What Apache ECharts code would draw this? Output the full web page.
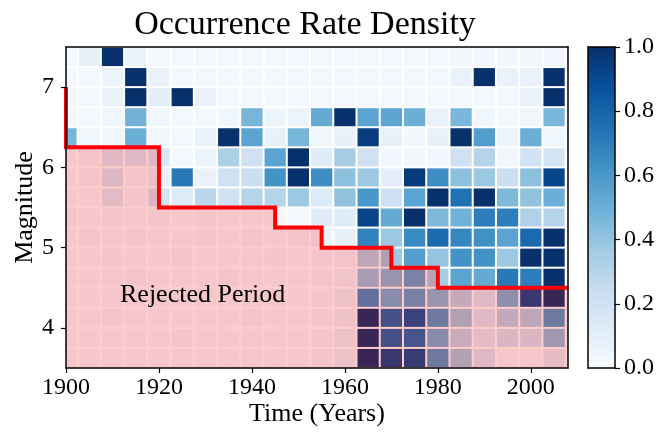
<!DOCTYPE html>
<html>
<head>
<meta charset="utf-8">
<script src="https://cdn.jsdelivr.net/npm/echarts@6/dist/echarts.min.js"></script>
<style>
  html, body { margin: 0; padding: 0; background: #fff; }
  #chart { width: 661px; height: 433px; }
</style>
</head>
<body>
<div id="chart"></div>
<script>
// bin centres (5-year bins) and lower edges of magnitude bins (0.25 wide)
const YEARS = [1900, 1905, 1910, 1915, 1920, 1925, 1930, 1935, 1940, 1945, 1950,
               1955, 1960, 1965, 1970, 1975, 1980, 1985, 1990, 1995, 2000, 2005];
const MAG_BINS = [3.5, 3.75, 4.0, 4.25, 4.5, 4.75, 5.0, 5.25,
                  5.5, 5.75, 6.0, 6.25, 6.5, 6.75, 7.0, 7.25];

// normalised rate density, one row per magnitude bin (bottom to top)
const RATES = [
  [0.02,0.02,0.02,0.02,0.02,0.02,0.02,0.02,0.02,0.02,0.02,0.03,0.07,1.00,0.92,0.90,0.60,0.37,0.16,0.02,0.02,0.12], // 3.50
  [0.02,0.02,0.02,0.02,0.02,0.03,0.02,0.02,0.02,0.02,0.02,0.03,0.07,1.00,0.80,0.78,0.50,0.28,0.12,0.18,0.18,0.43], // 3.75
  [0.02,0.02,0.03,0.02,0.02,0.02,0.02,0.02,0.03,0.02,0.02,0.03,0.06,1.00,0.80,0.87,0.60,0.38,0.15,0.30,0.33,0.60], // 4.00
  [0.02,0.02,0.02,0.02,0.03,0.02,0.02,0.02,0.02,0.03,0.02,0.03,0.06,0.65,0.50,0.56,0.45,0.30,0.15,0.48,0.92,1.00], // 4.25
  [0.02,0.02,0.02,0.03,0.02,0.02,0.02,0.03,0.02,0.02,0.02,0.03,0.05,0.40,0.45,0.55,0.35,0.55,0.52,0.72,0.70,1.00], // 4.50
  [0.02,0.02,0.03,0.02,0.02,0.03,0.02,0.02,0.02,0.03,0.02,0.03,0.04,0.33,0.38,0.57,0.40,0.62,0.62,0.38,1.00,1.00], // 4.75
  [0.02,0.03,0.02,0.03,0.02,0.02,0.03,0.02,0.03,0.02,0.03,0.06,0.08,0.68,0.38,0.65,0.78,0.67,0.63,0.55,0.78,1.00], // 5.00
  [0.03,0.02,0.03,0.02,0.03,0.02,0.03,0.02,0.02,0.02,0.02,0.12,0.12,0.92,0.52,1.00,0.45,0.48,0.70,0.70,0.32,0.30], // 5.25
  [0.02,0.02,0.13,0.03,0.18,0.13,0.28,0.20,0.30,0.30,0.38,0.13,0.41,0.60,0.21,0.55,1.00,0.75,1.00,0.45,0.41,0.50], // 5.50
  [0.02,0.03,0.17,0.03,0.08,0.72,0.07,0.20,0.22,0.62,1.00,0.64,0.42,0.38,0.10,0.96,0.64,0.42,0.38,0.22,0.42,0.92], // 5.75
  [0.02,0.03,0.15,0.15,0.16,0.02,0.05,0.33,0.20,0.55,1.00,0.12,0.35,0.20,0.03,0.03,0.03,0.20,0.30,0.04,0.19,0.18], // 6.00
  [0.47,0.04,0.04,0.50,0.04,0.02,0.07,1.00,0.55,0.08,0.47,0.04,0.08,0.95,0.08,0.03,0.08,1.00,0.57,0.06,0.50,0.04], // 6.25
  [0.02,0.02,0.04,0.48,0.04,0.02,0.02,0.04,0.47,0.05,0.06,0.52,1.00,0.55,0.54,0.50,0.07,0.46,0.04,0.02,0.04,0.46], // 6.50
  [0.02,0.02,0.07,1.00,0.10,1.00,0.07,0.02,0.02,0.02,0.02,0.02,0.02,0.02,0.02,0.02,0.02,0.02,0.02,0.02,0.07,1.00], // 6.75
  [0.02,0.02,0.06,1.00,0.07,0.02,0.02,0.02,0.02,0.02,0.02,0.02,0.02,0.02,0.02,0.02,0.02,0.07,1.00,0.07,0.07,1.00], // 7.00
  [0.02,0.08,1.00,0.07,0.02,0.02,0.02,0.02,0.02,0.02,0.02,0.02,0.02,0.02,0.02,0.02,0.02,0.03,0.03,0.03,0.03,0.03]  // 7.25
];

// completeness threshold (rejected period lies below it)
const STEP_YEARS = [1900, 1900, 1920, 1945, 1955, 1970, 1980, 2008];
const STEP_MAGS  = [7.0, 6.25, 5.5, 5.25, 5.0, 4.75, 4.5, 4.5];

const X_TICKS = [1900, 1920, 1940, 1960, 1980, 2000];
const Y_TICKS = [4, 5, 6, 7];

const BIN_W = 5, BIN_H = 0.25;
const FONT = 'Liberation Serif';
// matplotlib "Blues"
const BLUES = ['#f7fbff', '#deebf7', '#c6dbef', '#9ecae1', '#6baed6',
               '#4292c6', '#2171b5', '#08519c', '#08306b'];

const cells = [];
MAG_BINS.forEach((m, i) => {
  YEARS.forEach((y, j) => cells.push([y, m, RATES[i][j]]));
});
const stepLine = STEP_YEARS.map((y, i) => [y, STEP_MAGS[i]]);

const chart = echarts.init(document.getElementById('chart'));

function renderCell(params, api) {
  const yr = api.value(0), mag = api.value(1);
  const p0 = api.coord([yr - BIN_W / 2, mag + BIN_H]);
  const p1 = api.coord([yr + BIN_W / 2, mag]);
  const shape = echarts.graphic.clipRectByRect({
    x: p0[0] + 1, y: p0[1] + 1,
    width: p1[0] - p0[0] - 2, height: p1[1] - p0[1] - 2
  }, params.coordSys);
  if (!shape) return;
  return { type: 'rect', shape: shape, style: { fill: api.visual('color') } };
}

const lineOnly = { show: true, onZero: false, lineStyle: { color: '#000', width: 1.5 } };
const tickLabel = { color: '#000', fontFamily: FONT, fontSize: 24 };

const option = {
  animation: false,
  textStyle: { fontFamily: FONT },
  title: {
    text: 'Occurrence Rate Density',
    left: 300, top: 3, textAlign: 'center',
    textStyle: { fontFamily: FONT, fontWeight: 'normal', fontSize: 34, color: '#000' }
  },
  grid: [
    { left: 66, right: 93, top: 47, bottom: 65, outerBoundsMode: 'none', containLabel: false },
    { left: 588, top: 47, width: 27, height: 321, outerBoundsMode: 'none', containLabel: false }
  ],
  xAxis: [
    {
      type: 'value', gridIndex: 0, min: 1900, max: 2008, interval: 20,
      name: 'Time (Years)', nameLocation: 'middle', nameGap: 33, nameMoveOverlap: false,
      nameTextStyle: { fontFamily: FONT, fontSize: 26, color: '#000' },
      axisLine: lineOnly,
      axisTick: { show: true, inside: false, length: 5, customValues: X_TICKS, lineStyle: { color: '#000', width: 1.2 } },
      axisLabel: Object.assign({ margin: 8, customValues: X_TICKS, formatter: (v) => String(v) }, tickLabel),
      splitLine: { show: false }, z: 10
    },
    { type: 'value', gridIndex: 0, position: 'top', min: 1900, max: 2008, axisLine: lineOnly,
      axisTick: { show: false }, axisLabel: { show: false }, splitLine: { show: false }, z: 10 },
    { type: 'value', gridIndex: 1, position: 'bottom', min: 0, max: 1, axisLine: lineOnly,
      axisTick: { show: false }, axisLabel: { show: false }, splitLine: { show: false }, z: 10 },
    { type: 'value', gridIndex: 1, position: 'top', min: 0, max: 1, axisLine: lineOnly,
      axisTick: { show: false }, axisLabel: { show: false }, splitLine: { show: false }, z: 10 }
  ],
  yAxis: [
    {
      type: 'value', gridIndex: 0, min: 3.5, max: 7.5, interval: 0.5,
      name: 'Magnitude', nameLocation: 'middle', nameGap: 28, nameMoveOverlap: false,
      nameTextStyle: { fontFamily: FONT, fontSize: 26, color: '#000' },
      axisLine: lineOnly,
      axisTick: { show: true, inside: false, length: 5, customValues: Y_TICKS, lineStyle: { color: '#000', width: 1.2 } },
      axisLabel: Object.assign({ margin: 12, customValues: Y_TICKS }, tickLabel),
      splitLine: { show: false }, z: 10
    },
    { type: 'value', gridIndex: 0, position: 'right', min: 3.5, max: 7.5, axisLine: lineOnly,
      axisTick: { show: false }, axisLabel: { show: false }, splitLine: { show: false }, z: 10 },
    { type: 'value', gridIndex: 1, position: 'left', min: 0, max: 1, axisLine: lineOnly,
      axisTick: { show: false }, axisLabel: { show: false }, splitLine: { show: false }, z: 10 },
    {
      type: 'value', gridIndex: 1, position: 'right', min: 0, max: 1, interval: 0.2,
      axisLine: lineOnly,
      axisTick: { show: true, inside: false, length: 5, lineStyle: { color: '#000', width: 1.2 } },
      axisLabel: Object.assign({ margin: 9, formatter: (v) => v.toFixed(1) }, tickLabel),
      splitLine: { show: false }, z: 10
    }
  ],
  visualMap: {
    type: 'continuous', min: 0, max: 1, dimension: 2, seriesIndex: 0,
    inRange: { color: BLUES },
    orient: 'vertical', left: 588, top: 47, itemWidth: 27, itemHeight: 321,
    padding: 0, calculable: false, hoverLink: false
  },
  graphic: [{
    type: 'text', left: 120, top: 282, z: 50,
    style: { text: 'Rejected Period', fontFamily: FONT, fontSize: 26, fill: '#000' }
  }],
  series: [
    {
      type: 'custom', name: 'rate density',
      xAxisIndex: 0, yAxisIndex: 0,
      renderItem: renderCell,
      encode: { x: 0, y: 1 },
      dimensions: ['year', 'mag', 'rate'],
      data: cells, z: 2
    },
    {
      type: 'line', name: 'threshold',
      xAxisIndex: 0, yAxisIndex: 0,
      data: stepLine, step: 'end', showSymbol: false, clip: true,
      lineStyle: { color: '#ff0000', width: 4, join: 'miter' },
      areaStyle: { color: '#ff0000', opacity: 0.2, origin: 'start' },
      z: 3
    }
  ]
};

chart.setOption(option);
</script>
</body>
</html>
